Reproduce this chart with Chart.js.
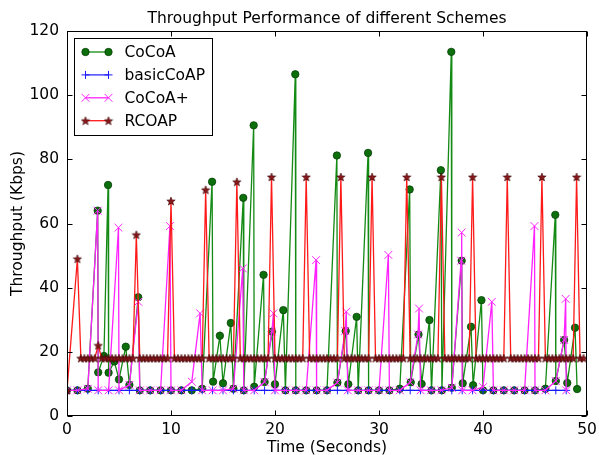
<!DOCTYPE html>
<html lang="en">
<head>
<meta charset="UTF-8">
<title>Throughput Performance of different Schemes</title>
<script src="https://cdn.jsdelivr.net/npm/chart.js"></script>
<style>
  body { margin: 0; background: #fff; }
</style>
</head>
<body>
<canvas id="tputChart" width="599" height="455"></canvas>
<script>
// CoCoA: sample time (s) and throughput (Kbps)
const cocoaTime = [0, 1, 2, 2.95, 3, 3.55, 3.95, 4, 4.55, 5, 5.65, 6, 6.85, 7, 8, 9, 10, 11, 12, 13,
  13.95, 14.05, 14.7, 15, 15.75, 16, 16.95, 17, 17.95, 18, 18.9, 19, 19.7, 20, 20.8, 21, 21.95, 22, 23, 24,
  25, 25.95, 26, 26.8, 27.05, 27.85, 28, 28.95, 29, 30, 31, 32, 32.95, 33.05, 33.8, 34.1, 34.85, 35.05, 35.95, 36.05,
  36.95, 37, 37.95, 38.05, 38.85, 39.05, 39.85, 40, 41, 42, 43, 44, 45, 46, 46.95, 47, 47.8, 48.1, 48.85, 49.05];
const cocoaKbps = [8, 8, 8.5, 64, 13.6, 18.7, 72, 13.5, 17, 11.4, 21.6, 9.7, 37, 8, 8, 8, 8, 8, 8, 8.5,
  73, 10.7, 25, 10.2, 29, 8.5, 68, 8, 90.6, 9.1, 44, 10.6, 26.3, 9.9, 33, 8, 106.5, 8, 8, 8,
  8, 81.2, 10.4, 26.5, 9.9, 30.9, 8, 82, 8, 8, 8, 8.5, 70.6, 10.5, 25.4, 10, 29.9, 8, 76.6, 8,
  113.5, 8.8, 48.4, 10.2, 27.8, 9.6, 36.1, 8, 8, 8, 8, 8, 8, 8.5, 62.7, 10.9, 23.7, 10.3, 27.5, 8.4];

// basicCoAP
const basicTime = [0, 1, 2, 3, 4, 5, 6, 7, 8, 9, 10, 11, 12, 13, 14, 15, 16, 17, 18, 19, 20, 21, 22, 23, 24,
  25, 26, 27, 28, 29, 30, 31, 32, 33, 34, 35, 36, 37, 38, 39, 40, 41, 42, 43, 44, 45, 46, 47, 48];
const basicKbps = [8, 8, 8, 8, 8, 8, 8, 8, 8, 8, 8, 8, 8, 8, 8, 8, 8, 8, 8, 8, 8, 8, 8, 8, 8,
  8, 8, 8, 8, 8, 8, 8, 8, 8, 8, 8, 8, 8, 8, 8, 8, 8, 8, 8, 8, 8, 8, 8, 8];

// CoCoA+
const plusTime = [0, 1, 2, 2.95, 3, 4, 4.95, 5, 6, 6.85, 7, 8, 9, 9.9, 10, 11, 12, 12.8, 13, 14,
  15, 16, 16.9, 17, 18, 19, 19.7, 19.85, 20, 21, 22, 23, 23.95, 24, 25, 26, 26.75, 26.85, 27, 28,
  29, 30, 30.9, 31, 32, 33, 33.75, 33.85, 34, 35, 36, 37, 37.9, 37.95, 38, 39, 40, 40.85, 41, 42,
  43, 44, 44.95, 45, 46, 47, 47.8, 47.95, 48];
const plusKbps = [8, 8, 8.5, 64, 8, 8, 58.7, 8, 9.7, 35.6, 8, 8, 8, 59.2, 8, 8, 10.7, 32, 8, 8,
  8, 8.5, 46, 8, 8, 10.6, 26.3, 32, 8, 8, 8, 8, 48.6, 8, 8, 10.4, 26.5, 32.5, 8, 8,
  8, 8, 50.2, 8, 8, 10.5, 25.4, 33.5, 8, 8, 8, 8.8, 48.4, 57.2, 8, 8, 9, 35.6, 8, 8,
  8, 8, 59.2, 8, 8, 10.9, 23.7, 36.5, 8];

// RCOAP, logged three times per second (null = no sample)
const rcoapPerSecond = 3;
const rcoapKbps = [
  8, null, null, 49, 18, 18, 18, 18, 18, 22,
  18, 18, 18, 18, 18, 18, 18, 18, 18, 18,
  56.5, 18, 18, 18, 18, 18, 18, 18, 18, 18,
  67, 18, 18, 18, 18, 18, 18, 18, 18, 18,
  70.5, 18, 18, 18, 18, 18, 18, 18, 18, 73,
  18, 18, 18, 18, 18, 18, 18, 18, 18, 74.5,
  18, 18, 18, 18, 18, 18, 18, 18, 18, 74.5,
  18, 18, 18, 18, 18, 18, 18, 18, 18, 74.5,
  18, 18, 18, 18, 18, 18, 18, 18, 74.5, 18,
  18, 18, 18, 18, 18, 18, 18, 18, 74.5, 18,
  18, 18, 18, 18, 18, 18, 18, 18, 74.5, 18,
  18, 18, 18, 18, 18, 18, 18, 74.5, 18, 18,
  18, 18, 18, 18, 18, 18, 18, 74.5, 18, 18,
  18, 18, 18, 18, 18, 18, 18, 74.5, 18, 18,
  18, 18, 18, 18, 18, 18, 18, 74.5, 18, 18
];

const xTicks = [0, 10, 20, 30, 40, 50];
const yTicks = [0, 20, 40, 60, 80, 100, 120];

const FONT = "'DejaVu Sans', sans-serif";
Chart.defaults.font.family = FONT;
Chart.defaults.font.size = 15.5;
Chart.defaults.color = '#000';

function pairs(t, v) {
  return t.map((x, i) => ({ x: x, y: v[i] }));
}

// filled five-point star, used as the RCOAP marker
function starMarker(size, fill, edge) {
  const c = document.createElement('canvas');
  c.width = c.height = size;
  const g = c.getContext('2d');
  const r = size / 2, ro = r - 0.6, ri = ro * 0.42;
  g.beginPath();
  for (let k = 0; k < 10; k++) {
    const rad = k % 2 ? ri : ro;
    const a = -Math.PI / 2 + k * Math.PI / 5;
    g.lineTo(r + rad * Math.cos(a), r + rad * Math.sin(a) + 0.4);
  }
  g.closePath();
  g.fillStyle = fill;
  g.fill();
  g.strokeStyle = edge;
  g.lineWidth = 0.6;
  g.stroke();
  return c;
}

const star = starMarker(10, '#86181c', '#3d0000');

const datasets = [
  {
    label: 'CoCoA',
    data: pairs(cocoaTime, cocoaKbps),
    borderColor: '#138a13',
    borderWidth: 1.3,
    pointStyle: 'circle',
    pointRadius: 3.7,
    pointBackgroundColor: '#0c6f0c',
    pointBorderColor: '#064006',
    pointBorderWidth: 0.8,
    order: 4
  },
  {
    label: 'basicCoAP',
    data: pairs(basicTime, basicKbps),
    borderColor: '#1a1aff',
    borderWidth: 1.2,
    pointStyle: 'cross',
    pointRadius: 4,
    pointBorderColor: '#1a1aff',
    pointBorderWidth: 1,
    order: 3
  },
  {
    label: 'CoCoA+',
    data: pairs(plusTime, plusKbps),
    borderColor: '#ff22ff',
    borderWidth: 1.3,
    pointStyle: 'crossRot',
    pointRadius: 5.5,
    pointBorderColor: '#ff22ff',
    pointBorderWidth: 1,
    order: 2
  },
  {
    label: 'RCOAP',
    data: rcoapKbps.map((v, i) => ({ x: i / rcoapPerSecond, y: v })).filter(p => p.y !== null),
    borderColor: '#ff1a1a',
    borderWidth: 1.3,
    pointStyle: star,
    pointRadius: 4,
    order: 1
  }
];

function drawMarker(g, ds, cx, cy) {
  const st = ds.pointStyle;
  if (st instanceof HTMLCanvasElement) {
    g.drawImage(st, cx - st.width / 2, cy - st.height / 2);
    return;
  }
  const r = ds.pointRadius;
  g.beginPath();
  g.lineWidth = ds.pointBorderWidth;
  g.strokeStyle = ds.pointBorderColor;
  if (st === 'circle') {
    g.arc(cx, cy, r, 0, Math.PI * 2);
    g.fillStyle = ds.pointBackgroundColor;
    g.fill();
  } else if (st === 'cross') {
    g.moveTo(cx - r, cy); g.lineTo(cx + r, cy);
    g.moveTo(cx, cy - r); g.lineTo(cx, cy + r);
  } else {
    const d = r * Math.SQRT1_2;
    g.moveTo(cx - d, cy - d); g.lineTo(cx + d, cy + d);
    g.moveTo(cx - d, cy + d); g.lineTo(cx + d, cy - d);
  }
  g.stroke();
}

// frame and inward ticks on all four sides
const frameTicks = {
  id: 'frameTicks',
  afterDatasetsDraw(chart) {
    const { ctx, chartArea: a, scales } = chart;
    const L = Math.round(a.left) + 0.5, R = Math.round(a.right) - 0.5;
    const T = Math.round(a.top) + 0.5, B = Math.round(a.bottom) - 0.5;
    ctx.save();
    ctx.strokeStyle = '#000';
    ctx.lineWidth = 1;
    ctx.beginPath();
    xTicks.forEach(v => {
      const px = Math.round(scales.x.getPixelForValue(v)) + 0.5;
      ctx.moveTo(px, B); ctx.lineTo(px, B - 5);
      ctx.moveTo(px, T); ctx.lineTo(px, T + 5);
    });
    yTicks.forEach(v => {
      const py = Math.round(scales.y.getPixelForValue(v)) + 0.5;
      ctx.moveTo(L, py); ctx.lineTo(L + 5, py);
      ctx.moveTo(R, py); ctx.lineTo(R - 5, py);
    });
    ctx.stroke();
    ctx.strokeRect(L, T, R - L, B - T);
    ctx.restore();
  }
};

// boxed legend in the upper left corner, line sample with two markers
const boxLegend = {
  id: 'boxLegend',
  afterDraw(chart) {
    const { ctx, chartArea: a } = chart;
    const left = Math.round(a.left) + 7.5, top = Math.round(a.top) + 7.5;
    const w = 138, h = 97;
    ctx.save();
    ctx.fillStyle = '#fff';
    ctx.fillRect(left, top, w, h);
    ctx.strokeStyle = '#000';
    ctx.lineWidth = 1;
    ctx.strokeRect(left, top, w, h);
    ctx.font = '15.5px ' + FONT;
    ctx.textBaseline = 'middle';
    chart.data.datasets.forEach((ds, i) => {
      const cy = top + 13.5 + i * 22.9;
      const x1 = left + 11, x2 = left + 34;
      ctx.beginPath();
      ctx.strokeStyle = ds.borderColor;
      ctx.lineWidth = ds.borderWidth;
      ctx.moveTo(x1, cy); ctx.lineTo(x2, cy);
      ctx.stroke();
      drawMarker(ctx, ds, x1, cy);
      drawMarker(ctx, ds, x2, cy);
      ctx.fillStyle = '#000';
      ctx.fillText(ds.label, left + 50, cy + 1);
    });
    ctx.restore();
  }
};

new Chart(document.getElementById('tputChart'), {
  type: 'line',
  data: { datasets: datasets },
  options: {
    responsive: false,
    animation: false,
    layout: { padding: { right: 12 } },
    elements: { line: { tension: 0 } },
    plugins: {
      legend: { display: false },
      tooltip: { enabled: false },
      title: {
        display: true,
        fullSize: false,
        text: 'Throughput Performance of different Schemes',
        color: '#000',
        font: { size: 15.5, weight: 'normal' },
        padding: { top: 10, bottom: 2.4 }
      }
    },
    scales: {
      x: {
        type: 'linear',
        min: 0,
        max: 50,
        grid: { display: false, drawTicks: false },
        border: { display: false },
        ticks: { padding: 5, maxRotation: 0 },
        title: { display: true, text: 'Time (Seconds)', padding: { top: 0, bottom: -2 } },
        afterBuildTicks: s => { s.ticks = xTicks.map(v => ({ value: v })); },
        afterFit: s => { s.height = 39; s.paddingLeft = 0; s.paddingRight = 0; }
      },
      y: {
        min: 0,
        max: 120,
        grid: { display: false, drawTicks: false },
        border: { display: false },
        ticks: { padding: 8 },
        title: { display: true, text: 'Throughput (Kbps)', padding: { top: 9, bottom: 0 } },
        afterBuildTicks: s => { s.ticks = yTicks.map(v => ({ value: v })); },
        afterFit: s => { s.width = 67; }
      }
    }
  },
  plugins: [frameTicks, boxLegend]
});
</script>
</body>
</html>
